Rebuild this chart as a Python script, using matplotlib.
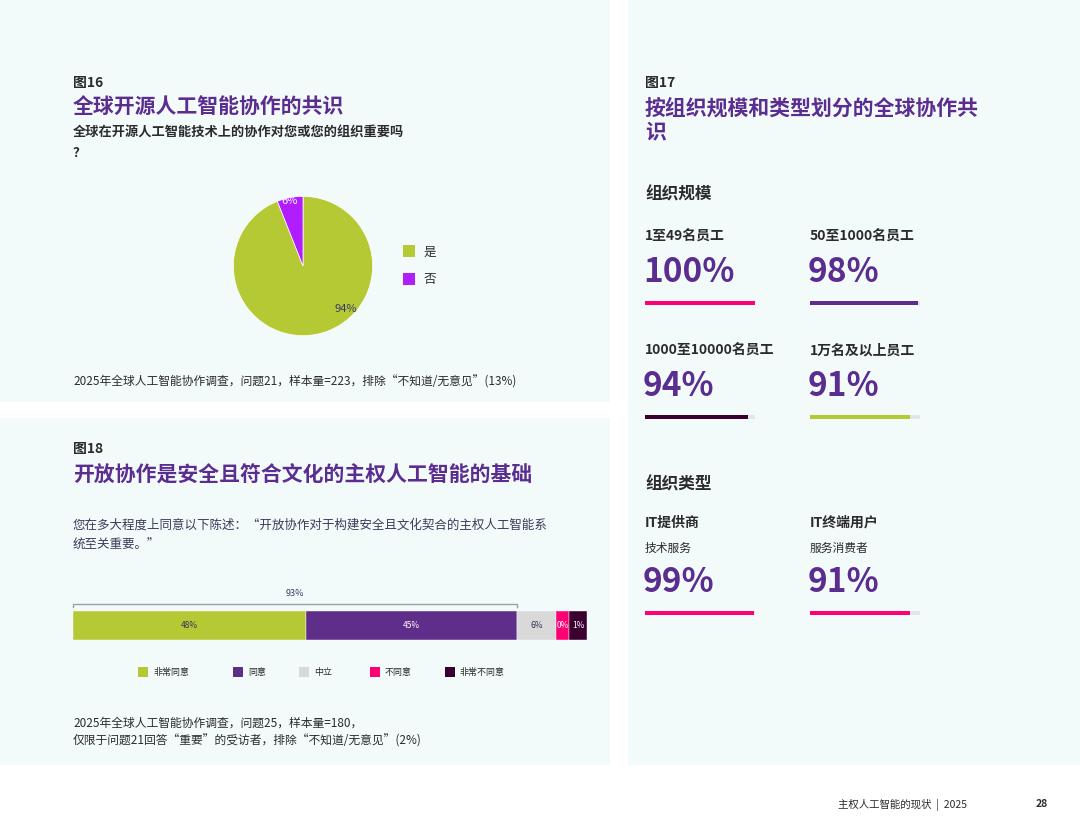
import matplotlib
matplotlib.use("Agg")
import matplotlib.pyplot as plt
from matplotlib.patches import Rectangle

plt.rcParams["font.family"] = ["Noto Sans CJK SC", "DejaVu Sans"]

W, H = 1080, 834
pie_labels = ["是", "否"]
pie_values = [94, 6]
pie_colors = ["#b5c935", "#b01eff"]

bar_labels = ["非常同意", "同意", "中立", "不同意", "非常不同意"]
bar_values = [45.3, 41.1, 7.6, 2.5, 3.5]
bar_texts = ["48%", "45%", "6%", "0%", "1%"]
bar_colors = ["#b5c935", "#5f2e8a", "#d9d9d9", "#ff0074", "#3b0030"]

size_labels = ["1至49名员工", "50至1000名员工", "1000至10000名员工", "1万名及以上员工"]
size_values = [100, 98, 94, 91]
size_colors = ["#ff0074", "#5f2e8a", "#3b0030", "#b5c935"]
type_labels = ["IT提供商", "IT终端用户"]
type_sub = ["技术服务", "服务消费者"]
type_values = [99, 91]
type_colors = ["#ff0074", "#ff0074"]

PURPLE = "#5c2d91"; DARK = "#2b2b2b"; BG = "#f2fbfa"

fig = plt.figure(figsize=(W/100, H/100), dpi=100)
fig.patch.set_facecolor("white")

def rect(x, y, w, h, c, z=5, **kw):
    fig.add_artist(Rectangle((x/W, 1-(y+h)/H), w/W, h/H, transform=fig.transFigure,
                             facecolor=c, edgecolor="none", zorder=z, **kw))

def txt(x, y, s, size=9, color=DARK, weight="normal", ha="left", va="center", **kw):
    fig.text(x/W, 1-y/H, s, fontsize=size, color=color, weight=weight, ha=ha, va=va, zorder=10, **kw)

def line(xs, ys, c, lw=1):
    fig.add_artist(plt.Line2D([x/W for x in xs], [1-y/H for y in ys], color=c, lw=lw,
                              transform=fig.transFigure, zorder=6))

rect(0, 0, 610, 402, BG, z=-10)
rect(0, 418, 610, 347, BG, z=-10)
rect(628, 0, 452, 765, BG, z=-10)

# Fig 16
txt(73, 83, "图16", 10, weight="bold")
txt(73, 106, "全球开源人工智能协作的共识", 15, PURPLE, "bold")
txt(73, 133, "全球在开源人工智能技术上的协作对您或您的组织重要吗", 9.5, weight="bold")
txt(73, 153, "？", 9.5, weight="bold")
ax = fig.add_axes([(303-87)/W, 1-(266+87)/H, 174/W, 174/H])
ax.set_zorder(1); ax.patch.set_alpha(0)
ax.pie(pie_values, colors=pie_colors, startangle=90, counterclock=False,
       wedgeprops=dict(edgecolor="white", linewidth=0.5))
ax.set_aspect("equal")
txt(346, 309, f"{pie_values[0]}%", 8, "#3a3a6a", ha="center")
txt(290, 201, f"{pie_values[1]}%", 8, "white", ha="center")
for i, (lab, c) in enumerate(zip(pie_labels, pie_colors)):
    rect(403, 245 + 28*i, 12, 12, c)
    txt(424, 252 + 28*i, lab, 9)
txt(73, 382, "2025年全球人工智能协作调查，问题21，样本量=223，排除“不知道/无意见”(13%)", 8.5)

# Fig 18
txt(73, 449, "图18", 10, weight="bold")
txt(73, 475, "开放协作是安全且符合文化的主权人工智能的基础", 15, PURPLE, "bold")
txt(73, 525, "您在多大程度上同意以下陈述：“开放协作对于构建安全且文化契合的主权人工智能系", 9, "#3b3b5a", style="italic")
txt(73, 545, "统至关重要。”", 9, "#3b3b5a", style="italic")
bx = fig.add_axes([73/W, 1-640/H, 514/W, 29/H])
bx.set_zorder(1); bx.patch.set_alpha(0)
left = 0
txt_colors = ["#333355", "white", "#333355", "white", "white"]
for v, c, t, tc in zip(bar_values, bar_colors, bar_texts, txt_colors):
    bx.barh(0, v, left=left, color=c, height=1, edgecolor="white", linewidth=0.3)
    bx.text(left + v/2, 0, t, ha="center", va="center", fontsize=6, color=tc)
    left += v
bx.set_xlim(0, sum(bar_values)); bx.set_ylim(-0.5, 0.5); bx.axis("off")
xe = 73 + 514*(bar_values[0]+bar_values[1])/sum(bar_values)
line([73, 73, xe, xe], [607, 604, 604, 607], "#9aa0aa", 1)
txt((73+xe)/2, 594, "93%", 6.5, "#3a3a6a", ha="center")
for lx, lab, c in zip([138, 233, 299, 370, 445], bar_labels, bar_colors):
    rect(lx, 667, 10, 10, c)
    txt(lx+15, 672, lab, 6.5)
txt(73, 723, "2025年全球人工智能协作调查，问题25，样本量=180，", 8.5)
txt(73, 741, "仅限于问题21回答“重要”的受访者，排除“不知道/无意见”(2%)", 8.5)

# Fig 17
txt(645, 83, "图17", 10, weight="bold")
txt(645, 108, "按组织规模和类型划分的全球协作共", 15, PURPLE, "bold")
txt(645, 133, "识", 15, PURPLE, "bold")
txt(645, 194, "组织规模", 12, weight="bold")
def stat(x, y, label, val, c, sub=None):
    txt(x, y, label, 10, weight="bold")
    dy = 0
    if sub:
        txt(x, y+25, sub, 8.5)
        dy = 24
    txt(x-2, y+36+dy, f"{val}%", 24, PURPLE, "bold")
    rect(x, y+64+dy, 110, 4, "#e3e6e6")
    rect(x, y+64+dy, 110*val/100, 4, c)
pos = [(645, 237), (810, 237), (645, 351), (810, 351)]
for (x, y), l, v, c in zip(pos, size_labels, size_values, size_colors):
    stat(x, y, l, v, c)
txt(645, 484, "组织类型", 12, weight="bold")
for x, l, s, v, c in zip([645, 810], type_labels, type_sub, type_values, type_colors):
    stat(x, 523, l, v, c, sub=s)

txt(967, 805, "主权人工智能的现状  |  2025", 7.5, ha="right")
txt(1048, 804, "28", 7.5, weight="bold", ha="right")

fig.savefig("out.png", dpi=100, facecolor="white")
